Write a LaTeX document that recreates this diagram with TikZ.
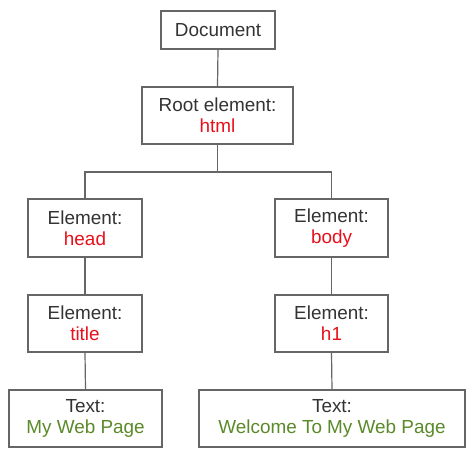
\documentclass[tikz,border=0pt]{standalone}
\usepackage{fontspec}
\setmainfont{Liberation Sans}
\definecolor{boxline}{HTML}{666666}
\definecolor{txt}{HTML}{333333}
\definecolor{tagred}{HTML}{E8101A}
\definecolor{txtgreen}{HTML}{5B8A2A}
\begin{document}
\begin{tikzpicture}[x=1pt,y=1pt,
  box/.style={draw=boxline, line width=1.1pt, rectangle, inner sep=0pt,
    align=center, text=txt, font=\fontsize{18.9}{21}\selectfont},
  link/.style={draw=boxline, line width=1.2pt}]
\useasboundingbox[fill=white] (0,0) rectangle (474,-458);
\node[box, minimum width=114, minimum height=38] (doc) at (218,-30) {Document};
\node[box, minimum width=151, minimum height=57] (root) at (217.5,-115.5) {Root element:\\\textcolor{tagred}{html}};
\node[box, minimum width=114, minimum height=58] (head) at (85,-228) {Element:\\\textcolor{tagred}{head}};
\node[box, minimum width=113, minimum height=58] (body) at (331.5,-228) {Element:\\\textcolor{tagred}{body}};
\node[box, minimum width=114, minimum height=57] (title) at (85,-323.5) {Element:\\\textcolor{tagred}{title}};
\node[box, minimum width=113, minimum height=57] (h1) at (331.5,-323.5) {Element:\\\textcolor{tagred}{h1}};
\node[box, minimum width=153, minimum height=57] (tl) at (85.5,-418.5) {Text:\\\textcolor{txtgreen}{My Web Page}};
\node[box, minimum width=266, minimum height=57] (tr) at (332,-418.5) {Text:\\\textcolor{txtgreen}{Welcome To My Web Page}};
\coordinate (bar) at (217.5,-172);
\draw[link] (doc.south) -- (root.north);
\draw[link] (root.south) -- (bar);
\draw[link] (bar) -| (head.north);
\draw[link] (bar) -| (body.north);
\draw[link] (head.south) -- (title.north);
\draw[link] (body.south) -- (h1.north);
\draw[link] (title.south) -- (tl.north);
\draw[link] (h1.south) -- (tr.north);
\end{tikzpicture}
\end{document}
